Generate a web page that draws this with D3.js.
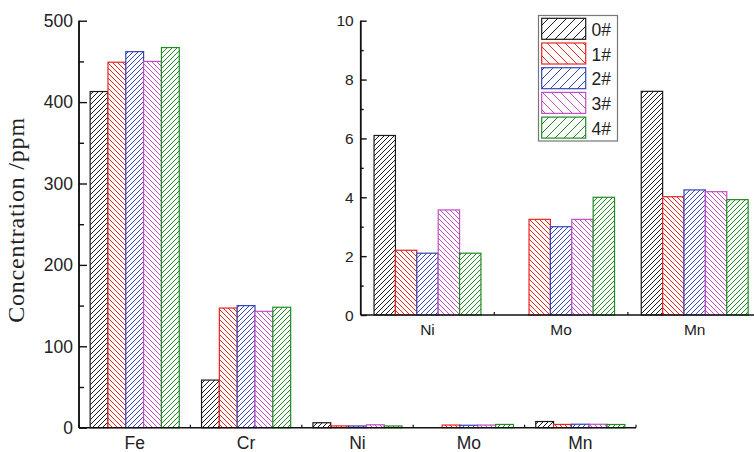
<!DOCTYPE html>
<html>
<head>
<meta charset="utf-8">
<script src="https://cdn.jsdelivr.net/npm/d3@7"></script>
<style>
  html, body { margin: 0; padding: 0; background: #fff; }
  svg { display: block; }
  text { font-family: Arial, "Liberation Sans", Helvetica, sans-serif; fill: #222; }
</style>
</head>
<body>
<svg id="chart" width="754" height="452"></svg>
<script>
// ---------- data ----------
const categories = ["Fe", "Cr", "Ni", "Mo", "Mn"];
const insetCategories = ["Ni", "Mo", "Mn"];
const seriesNames = ["0#", "1#", "2#", "3#", "4#"];
const s0 = [413, 58.5, 6.1, 0, 7.6];
const s1 = [449, 147, 2.2, 3.25, 4.02];
const s2 = [462, 150, 2.1, 3.0, 4.25];
const s3 = [450, 143, 3.57, 3.25, 4.19];
const s4 = [467, 148, 2.1, 4.0, 3.92];
const seriesValues = [s0, s1, s2, s3, s4];
const mainTicks = [0, 100, 200, 300, 400, 500];
const mainMinorTicks = [50, 150, 250, 350, 450];
const insetTicks = [0, 2, 4, 6, 8, 10];
const insetMinorTicks = [1, 3, 5, 7, 9];

// ---------- styles ----------
const colors = ["#1a1a1a", "#e8251f", "#3446b8", "#c24ec4", "#1f8c22"];
const hatchDir = ["/", "\\", "/", "\\", "/"];

const svg = d3.select("#chart");
const defs = svg.append("defs");

function makePattern(id, color, dir, size) {
  const p = defs.append("pattern")
    .attr("id", id)
    .attr("patternUnits", "userSpaceOnUse")
    .attr("width", size).attr("height", size);
  p.append("rect").attr("width", size).attr("height", size).attr("fill", "#fff");
  const s = size;
  const paths = dir === "/"
    ? `M0,${s} L${s},0 M${-s/2},${s/2} L${s/2},${-s/2} M${s/2},${s*1.5} L${s*1.5},${s/2}`
    : `M0,0 L${s},${s} M${-s/2},${s/2} L${s/2},${s*1.5} M${s/2},${-s/2} L${s*1.5},${s/2}`;
  p.append("path").attr("d", paths).attr("stroke", color).attr("stroke-width", 1).attr("fill", "none");
}
seriesNames.forEach((n, i) => {
  makePattern("hb" + i, colors[i], hatchDir[i], 5);
  makePattern("hl" + i, colors[i], hatchDir[i], 9);
});

// ---------- main chart ----------
const mainLeft = 79, mainRight = 636, mainTop = 20.7, mainBottom = 427.7;
const x0 = d3.scaleBand().domain(categories).range([mainLeft, mainRight]).paddingInner(0.2).paddingOuter(0.1);
const xs = d3.scaleBand().domain(seriesNames).range([0, x0.bandwidth()]);
const y = d3.scaleLinear().domain([0, 500]).range([mainBottom, mainTop]);

const gMain = svg.append("g");
categories.forEach((c, ci) => {
  seriesNames.forEach((s, si) => {
    const v = seriesValues[si][ci];
    if (v <= 0) return;
    gMain.append("rect")
      .attr("x", x0(c) + xs(s))
      .attr("y", y(v))
      .attr("width", xs.bandwidth())
      .attr("height", y(0) - y(v))
      .attr("fill", `url(#hb${si})`)
      .attr("stroke", colors[si])
      .attr("stroke-width", 1.2);
  });
});

// y axis
const yAxis = d3.axisRight(y).tickValues(mainTicks).tickSize(8).tickFormat("");
const gy = svg.append("g").attr("transform", `translate(${mainLeft},0)`).call(yAxis);
const gyMinor = svg.append("g").attr("transform", `translate(${mainLeft},0)`)
  .call(d3.axisRight(y).tickValues(mainMinorTicks).tickSize(5).tickFormat(""));
[gy, gyMinor].forEach(g => {
  g.select(".domain").attr("stroke", "#111").attr("stroke-width", 1.5).attr("d", `M0,${mainBottom}V${mainTop}`);
  g.selectAll(".tick line").attr("stroke", "#111").attr("stroke-width", 1.4);
});
svg.append("g").selectAll("text").data(mainTicks).join("text")
  .attr("x", mainLeft - 6).attr("y", d => y(d)).attr("dy", "0.36em")
  .attr("text-anchor", "end").attr("font-size", 17.5).text(d => d);

// x axis
svg.append("line").attr("x1", mainLeft).attr("x2", mainRight).attr("y1", mainBottom).attr("y2", mainBottom)
  .attr("stroke", "#111").attr("stroke-width", 1.5);
const mainBoundaries = categories.map((c, i) => mainLeft + i * x0.step()).concat([mainRight]);
svg.append("g").selectAll("line").data(mainBoundaries).join("line")
  .attr("x1", d => d).attr("x2", d => d).attr("y1", mainBottom).attr("y2", mainBottom - 3)
  .attr("stroke", "#111").attr("stroke-width", 1.2);
svg.append("g").selectAll("text").data(categories).join("text")
  .attr("x", d => x0(d) + x0.bandwidth() / 2).attr("y", 448.5)
  .attr("text-anchor", "middle").attr("font-size", 17.5).text(d => d);

// y title
svg.append("text")
  .attr("transform", `translate(24,220) rotate(-90)`)
  .attr("text-anchor", "middle")
  .style("font-family", "'Liberation Serif', 'Times New Roman', serif")
  .style("letter-spacing", "0.8px")
  .attr("font-size", 24)
  .text("Concentration /ppm");

// ---------- inset ----------
const inLeft = 360.7, inRight = 761.5, inTop = 20.7, inBottom = 315;
const xi = d3.scaleBand().domain(insetCategories).range([inLeft, inRight]).paddingInner(0.2).paddingOuter(0.1);
const xis = d3.scaleBand().domain(seriesNames).range([0, xi.bandwidth()]);
const yi = d3.scaleLinear().domain([0, 10]).range([inBottom, inTop]);

const gIn = svg.append("g");
insetCategories.forEach(c => {
  const ci = categories.indexOf(c);
  seriesNames.forEach((s, si) => {
    const v = seriesValues[si][ci];
    if (v <= 0) return;
    gIn.append("rect")
      .attr("x", xi(c) + xis(s))
      .attr("y", yi(v))
      .attr("width", xis.bandwidth())
      .attr("height", yi(0) - yi(v))
      .attr("fill", `url(#hb${si})`)
      .attr("stroke", colors[si])
      .attr("stroke-width", 1.2);
  });
});

const gyi = svg.append("g").attr("transform", `translate(${inLeft},0)`)
  .call(d3.axisRight(yi).tickValues(insetTicks).tickSize(6).tickFormat(""));
const gyiMinor = svg.append("g").attr("transform", `translate(${inLeft},0)`)
  .call(d3.axisRight(yi).tickValues(insetMinorTicks).tickSize(3).tickFormat(""));
[gyi, gyiMinor].forEach(g => {
  g.select(".domain").attr("stroke", "#111").attr("stroke-width", 1.5).attr("d", `M0,${inBottom}V${inTop}`);
  g.selectAll(".tick line").attr("stroke", "#111").attr("stroke-width", 1.4);
});
svg.append("g").selectAll("text").data(insetTicks).join("text")
  .attr("x", inLeft - 7).attr("y", d => yi(d)).attr("dy", "0.36em")
  .attr("text-anchor", "end").attr("font-size", 15.5).text(d => d);

svg.append("line").attr("x1", inLeft).attr("x2", inRight).attr("y1", inBottom).attr("y2", inBottom)
  .attr("stroke", "#111").attr("stroke-width", 1.5);
const inBoundaries = insetCategories.map((c, i) => inLeft + i * xi.step()).slice(1);
svg.append("g").selectAll("line").data(inBoundaries).join("line")
  .attr("x1", d => d).attr("x2", d => d).attr("y1", inBottom).attr("y2", inBottom - 3)
  .attr("stroke", "#111").attr("stroke-width", 1.2);
svg.append("g").selectAll("text").data(insetCategories).join("text")
  .attr("x", d => xi(d) + xi.bandwidth() / 2).attr("y", 335)
  .attr("text-anchor", "middle").attr("font-size", 15.5).text(d => d);

// ---------- legend ----------
const leg = svg.append("g");
leg.append("rect").attr("x", 538.5).attr("y", 15.5).attr("width", 79).attr("height", 125.5)
  .attr("fill", "#fff").attr("stroke", "#777").attr("stroke-width", 1.2);
seriesNames.forEach((s, i) => {
  const yy = 18.3 + i * 24.7;
  leg.append("rect").attr("x", 541.7).attr("y", yy).attr("width", 44).attr("height", 21)
    .attr("fill", `url(#hl${i})`).attr("stroke", colors[i]).attr("stroke-width", 1.2);
  leg.append("text").attr("x", 591.5).attr("y", yy + 17.7).attr("font-size", 17.5).text(s);
});
</script>
</body>
</html>
